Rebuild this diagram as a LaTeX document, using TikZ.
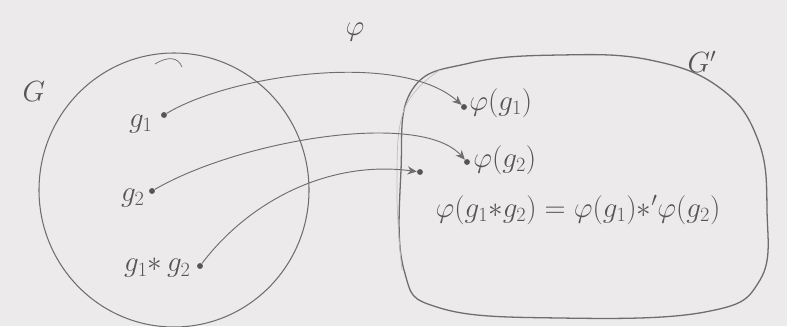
\documentclass[tikz,border=0pt]{standalone}
\usetikzlibrary{arrows.meta}
\definecolor{paper}{HTML}{ECEAEA}
\definecolor{pencil}{HTML}{6E6E6E}
\definecolor{ink}{HTML}{555555}
\tikzset{
  outline/.style={draw=pencil, line width=0.9pt},
  faint/.style={draw=pencil!45, line width=0.6pt},
  pt/.style={circle, fill=ink, inner sep=0pt, minimum size=5pt},
  lbl/.style={text=ink, font=\fontsize{27}{30}\selectfont, inner sep=1pt},
  maparrow/.style={draw=pencil, line width=0.8pt, -{Stealth[length=8pt,width=7pt]}}
}
\begin{document}
\begin{tikzpicture}[x=0.03cm,y=-0.03cm]
\fill[paper] (0,0) rectangle (787,326);
\useasboundingbox (0,0) rectangle (787,326);
% set G
\draw[outline] (174,190) ellipse [x radius=135, y radius=137];
\draw[outline, line width=0.6pt] (155,64) .. controls (168,56) and (178,57) .. (182,67);
% set G'
\draw[outline, line width=1.1pt] plot[smooth cycle, tension=0.7] coordinates
  {(401,170) (412,90) (470,63) (560,55) (650,60) (720,88) (758,140) (767,210) (760,280) (705,312) (560,318) (440,308) (404,270)};
\draw[faint] plot[smooth, tension=0.7] coordinates {(440,70) (404,110) (397,190) (402,270)};
% labels
\node[lbl] (G) at (34,92) {$G$};
\node[lbl] (Gp) at (702,62) {$G'$};
\node[lbl] (phi) at (355,32) {$\varphi$};
% elements of G
\node[pt] (a) at (164,115) {};
\node[pt] (b) at (152,191) {};
\node[pt] (c) at (200,266) {};
\node[lbl, anchor=east] (la) at (154,124) {$g_1$};
\node[lbl, anchor=east] (lb) at (146,198) {$g_2$};
\node[lbl, anchor=east] (lc) at (192,268) {$g_1{*}\,g_2$};
% images in G'
\coordinate (t1) at (464,107);
\coordinate (t2) at (467,162);
\coordinate (t3) at (420,172);
\node[pt] (pa) at (t1) {};
\node[pt] (pb) at (t2) {};
\node[pt] (pc) at (t3) {};
\node[lbl, anchor=west] (lpa) at (468,103) {$\varphi(g_1)$};
\node[lbl, anchor=west] (lpb) at (472,160) {$\varphi(g_2)$};
\node[lbl] (lpc) at (578,210) {$\varphi(g_1{*}g_2)=\varphi(g_1){*}'\varphi(g_2)$};
% mapping arrows
\draw[maparrow] (a) .. controls (230,75) and (400,50) .. (pa);
\draw[maparrow] (b) .. controls (240,140) and (420,110) .. (pb);
\draw[maparrow] (c) .. controls (250,200) and (330,160) .. (pc);
\end{tikzpicture}
\end{document}
